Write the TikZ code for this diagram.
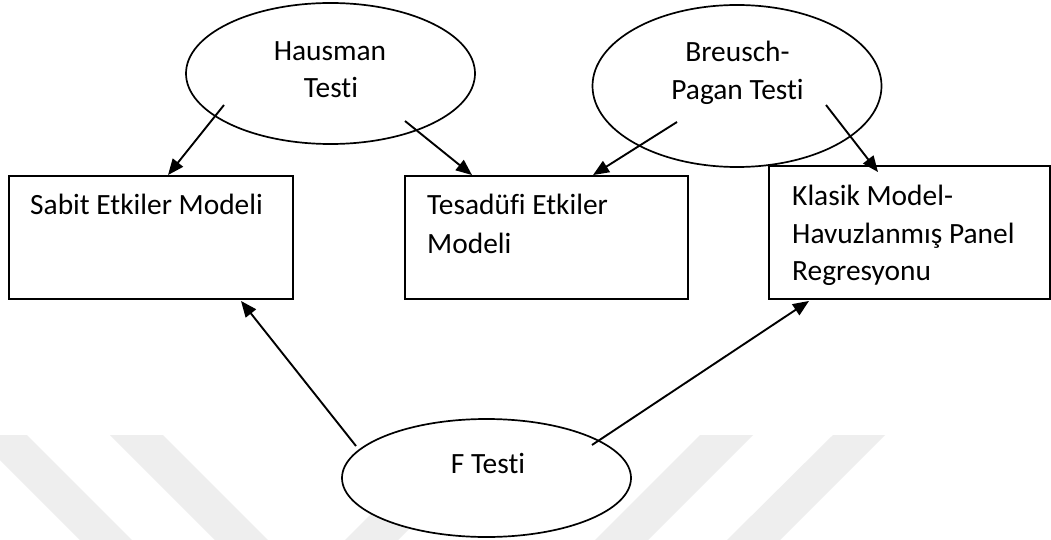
\documentclass[tikz,border=0pt]{standalone}
\usepackage{fontspec}
\setmainfont{Carlito}[Ligatures={NoCommon}]
\usetikzlibrary{shapes.geometric,arrows.meta}
\tikzset{
  oval/.style={draw=black,line width=1.7pt,fill=white,ellipse,inner sep=0pt},
  modelbox/.style={draw=black,line width=1.9pt,fill=white,rectangle,inner sep=0pt},
  lbl/.style={inner sep=0pt,font=\fontsize{29.4}{36}\selectfont},
  arr/.style={line width=1.9pt,-{Triangle[length=16pt,width=13pt]}},
  wm/.style={fill=gray!13,draw=none}
}
\begin{document}
\begin{tikzpicture}[x=1pt,y=-1pt]
\useasboundingbox (0,0) rectangle (1051,540);
\fill[white] (0,0) rectangle (1051,540);
% faint watermark bands
\fill[wm] (-25,435) -- (27,435) -- (132,540) -- (80,540) -- cycle;
\fill[wm] (110,435) -- (163,435) -- (268,540) -- (215,540) -- cycle;
\fill[wm] (450,435) -- (503,435) -- (398,540) -- (345,540) -- cycle;
\fill[wm] (700,435) -- (753,435) -- (648,540) -- (595,540) -- cycle;
\fill[wm] (833,435) -- (885,435) -- (780,540) -- (727,540) -- cycle;
% ovals
\node[oval,minimum width=289pt,minimum height=141pt] (H) at (330.5,73.5) {};
\node[oval,minimum width=289pt,minimum height=162pt] (B) at (737,86) {};
\node[oval,minimum width=289pt,minimum height=118pt] (F) at (486.5,478) {};
% boxes
\node[modelbox,minimum width=284pt,minimum height=123pt] (S) at (151,237.5) {};
\node[modelbox,minimum width=283pt,minimum height=123pt] (T) at (546.5,237.5) {};
\node[modelbox,minimum width=281pt,minimum height=133pt] (K) at (909.5,232.5) {};
% texts
\node[lbl,anchor=base] (h1) at (330,61) {Hausman};
\node[lbl,anchor=base] (h2) at (331,98) {Testi};
\node[lbl,anchor=base] (b1) at (737.5,62) {Breusch-};
\node[lbl,anchor=base] (b2) at (737.5,100) {Pagan Testi};
\node[lbl,anchor=base] (f1) at (488,473) {F Testi};
\node[lbl,anchor=base west] (s1) at (30,214) {Sabit Etkiler Modeli};
\node[lbl,anchor=base west] (t1) at (427,214) {Tesadüfi Etkiler};
\node[lbl,anchor=base west] (t2) at (427,253) {Modeli};
\node[lbl,anchor=base west] (k1) at (792,205) {Klasik Model-};
\node[lbl,anchor=base west] (k2) at (792,243) {Havuzlanmış Panel};
\node[lbl,anchor=base west] (k3) at (792,280) {Regresyonu};
% connectors
\draw[arr] ([shift={(-106.5,31.5)}]H.center) -- ([shift={(17,0)}]S.north);
\draw[arr] ([shift={(74.5,47.5)}]H.center) -- ([shift={(-74.5,0)}]T.north);
\draw[arr] ([shift={(-60,36)}]B.center) -- ([shift={(46.5,0)}]T.north);
\draw[arr] ([shift={(89,19)}]B.center) -- ([shift={(-31.5,7)}]K.north);
\draw[arr] ([shift={(-130.5,-32)}]F.center) -- ([shift={(90,1)}]S.south);
\draw[arr] ([shift={(105.5,-33)}]F.center) -- ([shift={(-100.5,1)}]K.south);
\end{tikzpicture}
\end{document}
